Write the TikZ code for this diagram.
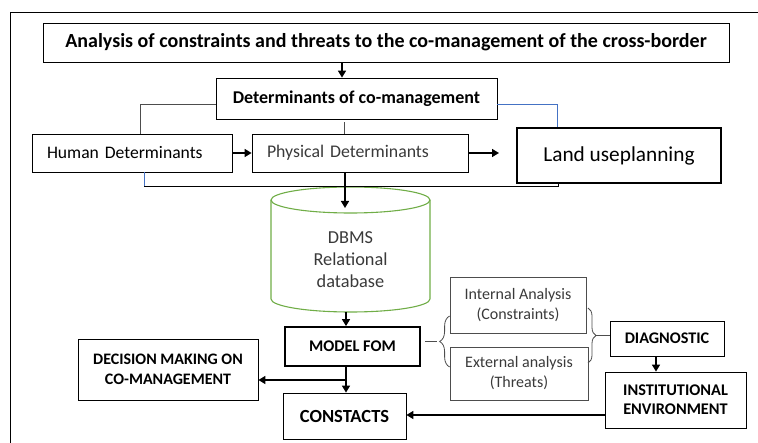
\documentclass[tikz,border=0pt]{standalone}
\usepackage{fontspec}
\setmainfont{Carlito}
\usetikzlibrary{arrows.meta,decorations.pathreplacing}
\definecolor{offblue}{HTML}{4472C4}
\definecolor{offgreen}{HTML}{70AD47}
\definecolor{txtgray}{HTML}{3A3A3A}
\definecolor{linegray}{HTML}{4D4D4D}
\begin{document}
\begin{tikzpicture}[x=1pt,y=-1pt,
  box/.style={draw, line width=0.8pt, inner sep=0pt, align=center},
  arr/.style={line width=1.5pt, -{Triangle[length=7pt,width=8pt]}},
  conn/.style={line width=0.8pt, draw=linegray},
  bconn/.style={line width=1pt, draw=offblue},
  brc/.style={line width=0.8pt, draw=linegray, decorate}]
\useasboundingbox (0,0) rectangle (758,443);
\draw[line width=1pt] (10,443) -- (10,13) -- (758,13);

\node[box, minimum width=686pt, minimum height=39pt, font=\fontsize{20}{24}\selectfont\bfseries] (title) at (386,42.5) {Analysis of constraints and threats to the co-management of the cross-border};
\node[box, minimum width=281pt, minimum height=41pt, font=\fontsize{18}{21}\selectfont\bfseries] (det) at (356.5,98.5) {Determinants of co-management};
\node[box, minimum width=200pt, minimum height=38pt, inner xsep=15pt, text width=170pt, align=left, font=\fontsize{17.6}{21}\selectfont] (human) at (132,153) {Human Determinants};
\node[box, minimum width=216pt, minimum height=38pt, inner xsep=15pt, text width=186pt, align=left, font=\fontsize{17.8}{21}\selectfont, text=txtgray] (phys) at (360,153) {Physical Determinants};
\node[box, line width=2.4pt, minimum width=204pt, minimum height=55pt, font=\fontsize{21.3}{25}\selectfont] (land) at (619,155.5) {Land useplanning};

% cylinder
\draw[offgreen, line width=1.1pt] (271,200) -- (271,299) arc[start angle=180, end angle=360, x radius=79.5pt, y radius=13pt] -- (430,200);
\draw[offgreen, line width=1.1pt] (350.5,200) ellipse[x radius=79.5pt, y radius=13pt];
\coordinate (cyltop) at (345,208);
\coordinate (cylbot) at (346,312);
\node[align=center, text=txtgray, font=\fontsize{18.3}{22}\selectfont] (db) at (350.5,260) {DBMS\\Relational\\database};

\node[box, line width=1.8pt, minimum width=135pt, minimum height=39pt, font=\fontsize{16.3}{19}\selectfont\bfseries] (model) at (352.5,346.5) {MODEL FOM};
\node[box, minimum width=180pt, minimum height=61pt, font=\fontsize{16}{20}\selectfont\bfseries] (dec) at (168,369.5) {DECISION MAKING ON\\CO-MANAGEMENT};
\node[box, minimum width=123pt, minimum height=46pt, font=\fontsize{18.5}{22}\selectfont\bfseries] (cons) at (344.5,416) {CONSTACTS};
\node[box, draw=linegray, minimum width=136pt, minimum height=56pt, text=txtgray, font=\fontsize{16}{20}\selectfont] (int) at (518,305) {Internal Analysis\\(Constraints)};
\node[box, draw=linegray, minimum width=138pt, minimum height=53pt, text=txtgray, font=\fontsize{16}{20}\selectfont] (ext) at (519,373.5) {External analysis\\(Threats)};
\node[box, minimum width=114pt, minimum height=35pt, font=\fontsize{16.2}{19}\selectfont\bfseries] (diag) at (667,338.5) {DIAGNOSTIC};
\node[box, minimum width=141pt, minimum height=56pt, font=\fontsize{16.3}{19}\selectfont\bfseries] (inst) at (675.5,400) {INSTITUTIONAL\\ENVIRONMENT};

% connectors top
\draw[arr] (title.south -| 342,0) -- (det.north -| 342,0);
\draw[conn] (det.west |- 0,104) -| (human.north -| 140,0);
\draw[conn] ([yshift=-3pt]det.south -| 344,0) -- (phys.north -| 344,0);
\draw[bconn] (det.east |- 0,105) -| (land.north -| 557,0);
\draw[bconn] (human.south -| 144,0) -- (144,186);
\draw[conn, draw=black] (144,186) -| (land.south -| 558,0);
\draw[arr] (human.east) -- (phys.west);
\coordinate (landarr) at (499,153);
\draw[arr] (phys.east) -- (landarr);
\draw[arr] (phys.south -| 345,0) -- (cyltop);
\draw[arr] (cylbot) -- (model.north -| 346,0);
\draw[arr] (model.south -| 346,0) -- (cons.north -| 346,0);
\coordinate (split) at (346,380);
\draw[arr] (split) -- (dec.east |- split);

% braces
\draw[brc, decoration={brace, amplitude=10pt}] (int.west |- 0,367) -- (int.west |- 0,316);
\draw[conn] (425,341.5) -- (437,341.5);
\draw[brc, decoration={brace, amplitude=8pt}] (588,308) -- (588,363);
\draw[conn] (596,335.5) -- (diag.west |- 0,335.5);

\draw[arr] (diag.south -| 656,0) -- (inst.north -| 656,0);
\draw[arr] (inst.west |- 0,415) -- (cons.east |- 0,415);
\end{tikzpicture}
\end{document}
